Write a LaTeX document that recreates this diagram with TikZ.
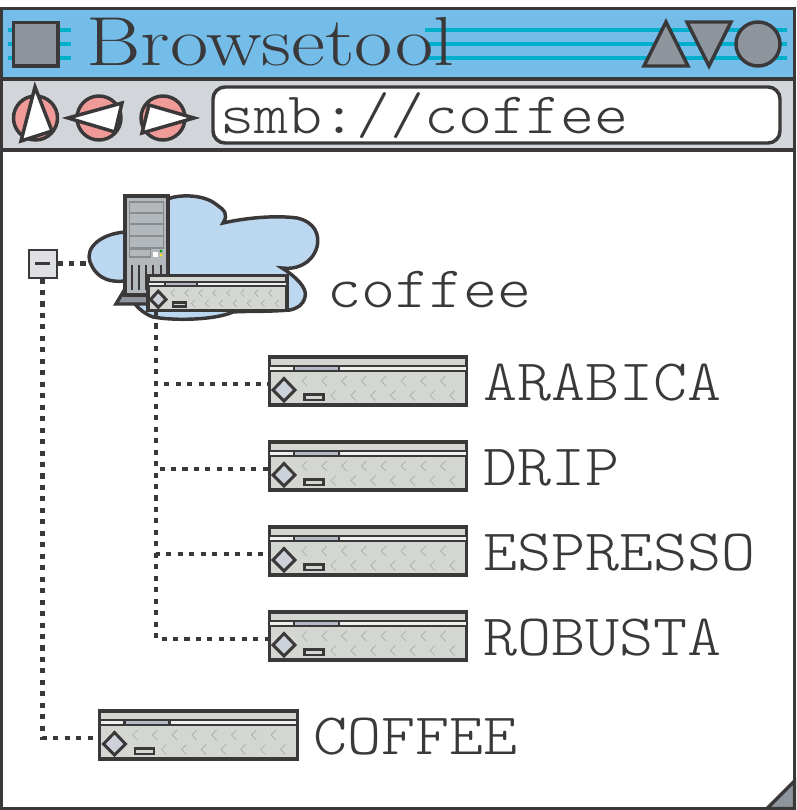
\documentclass[tikz,border=0pt]{standalone}
\usetikzlibrary{positioning}
\usepackage{xcolor}

\definecolor{inkdark}{HTML}{3A3839}
\definecolor{titleblue}{HTML}{74BDE9}
\definecolor{stripecyan}{HTML}{00AFCB}
\definecolor{barsilver}{HTML}{D2D5DA}
\definecolor{knobgray}{HTML}{8E959C}
\definecolor{navpink}{HTML}{F19B99}
\definecolor{cloudblue}{HTML}{BCD8F0}
\definecolor{drivefill}{HTML}{D4D6D1}
\definecolor{diamondfill}{HTML}{CDD1DA}
\definecolor{slotgray}{HTML}{B4BAC6}
\definecolor{towerfill}{HTML}{B3B8BD}
\definecolor{thingray}{HTML}{8A8D90}
\definecolor{chevrongray}{HTML}{A9ABA8}
\definecolor{minusfill}{HTML}{DFE0E4}

\tikzset{
    outline/.style={draw=inkdark, line width=2.6pt, line join=miter},
    knob/.style={outline, fill=knobgray},
    navknob/.style={outline, fill=navpink},
    navarrow/.style={outline, fill=white},
    stripe/.style={stripecyan, line width=2.6pt},
    dotline/.style={draw=inkdark, line width=3.5pt, dash pattern=on 3.8pt off 4.8pt},
    drivebox/.style={draw=inkdark, line width=2.4pt, fill=drivefill, minimum width=148pt, minimum height=36pt, inner sep=0pt, transform shape},
    drivelabel/.style={font=\ttfamily\fontseries{l}\fontsize{44}{44}\selectfont, text=inkdark, inner sep=0pt, xscale=1.105, transform shape},
    drive/.pic={
        \node[drivebox] (-box) at (100,25) {};
        \coordinate (-port) at (0,28);
        %chevrons
        \foreach \k in {0,...,7}
            \draw [chevrongray, line width=.5pt] (39+19.8*\k,20) -- (34+19.8*\k,25) -- (39+19.8*\k,30);
        \foreach \k in {0,...,6}
            \draw [chevrongray, line width=.5pt] (68+19.8*\k,34.5) -- (63+19.8*\k,39.5) -- (68+19.8*\k,44.5);
        %top strip
        \draw [fill=drivefill!40!white, draw=inkdark, line width=1.6pt] (1,10) rectangle (199,15);
        \draw [fill=slotgray, draw=inkdark, line width=1.6pt] (26,10) rectangle (71,15);
        \draw [inkdark, line width=1.6pt] (1,10) -- (199,10) (1,15) -- (199,15);
        %diamond and slot
        \draw [fill=diamondfill, draw=inkdark, line width=2.2pt] (16,22.5) -- (27,34) -- (16,45) -- (5,34) -- cycle;
        \draw [fill=drivefill, draw=inkdark, line width=1.8pt] (36.5,38.5) rectangle (55.5,44);
    }
}

\begin{document}
\begin{tikzpicture}[x=0.75pt, y=-0.75pt]

    \useasboundingbox (0,0) rectangle (796,810);

    %window
    \draw [outline, fill=titleblue] (1,8.5) rectangle (794.5,79);
    \draw [outline, fill=barsilver] (1,79) rectangle (794.5,150);

    %title bar
    \foreach \y in {30,44,58} {
        \draw [stripe] (8,\y) -- (71,\y);
        \draw [stripe] (425,\y) -- (787,\y);
    }
    \draw [knob] (13.5,22.5) rectangle (58,66);
    \node (title) [anchor=base west, inner sep=0pt, text=inkdark, font=\fontsize{52}{52}\selectfont] at (86,65) {\scalebox{1.2}[1]{Browsetool}};
    \draw [knob] (666,22) -- (688,66) -- (644,66) -- cycle;
    \draw [knob] (687,22) -- (731,22) -- (709,66) -- cycle;
    \draw [knob] (758,44) circle (22);

    %navigation
    \draw [navknob] (35.5,118) circle (22);
    \draw [navarrow] (35,87) -- (52,131) -- (21,141) -- cycle;
    \draw [navknob] (99,118) circle (22);
    \draw [navarrow] (68,118) -- (122,103) -- (115,132) -- cycle;
    \draw [navknob] (163,118) circle (22);
    \draw [navarrow] (194,118) -- (149,105) -- (142,133) -- cycle;

    %address
    \draw [outline, fill=white, rounded corners=9pt] (213,87) rectangle (780,143);
    \node (address) [drivelabel, anchor=base west] at (220,133) {smb://coffee};

    %server
    \draw [outline, fill=cloudblue] (168,199)
        .. controls (176,195) and (203,193) .. (217,205)
        .. controls (224,210) and (229,214) .. (223,223)
        .. controls (245,218) and (275,215) .. (297,218)
        .. controls (315,222) and (320,235) .. (317,247)
        .. controls (312,264) and (296,270) .. (282,268)
        .. controls (295,276) and (308,288) .. (305,297)
        .. controls (303,305) and (298,308) .. (290,310)
        .. controls (265,312) and (245,311) .. (233,312)
        .. controls (215,320) and (175,321) .. (153,317)
        .. controls (145,314) and (140,310) .. (135,304)
        -- (125,281)
        .. controls (105,283) and (95,275) .. (90,262)
        .. controls (85,248) and (100,234) .. (125,232)
        -- cycle;
    \draw [outline, fill=knobgray] (125,289) -- (116,304) -- (150,304) -- (150,289) -- cycle;
    \draw [outline, fill=towerfill] (125,196) rectangle (168,295);
    \draw [thingray, line width=.9pt] (129.5,202) rectangle (163.5,248);
    \foreach \y in {213,224,236}
        \draw [thingray, line width=.9pt] (129.5,\y) -- (163.5,\y);
    \draw [thingray, line width=.9pt] (129.5,249) rectangle (150.5,257);
    \fill [white] (153,252) rectangle (157.5,256.5);
    \fill [green!60!black] (161,251) circle (1.5);
    \fill [yellow!90!orange] (161,255) circle (1.5);
    \foreach \x in {132,139,146,153,161}
        \draw [inkdark, line width=1.8pt] (\x,265) -- (\x,290);

    %drives
    \pic [scale=0.705, yscale=1.02] (serverdrive) at (147,275) {drive};
    \pic (arabica) at (268,356) {drive};
    \pic (drip) at (268,441) {drive};
    \pic (espresso) at (268,526) {drive};
    \pic (robusta) at (268,611) {drive};
    \pic (coffeeshare) at (98.5,710) {drive};

    %labels
    \node (serverlabel) [drivelabel, right=29pt of serverdrive-box, yshift=2.2pt] {coffee};
    \node [drivelabel, right=11pt of arabica-box, yshift=-1.5pt] {ARABICA};
    \node [drivelabel, right=11pt of drip-box, yshift=-1.5pt] {DRIP};
    \node [drivelabel, right=11pt of espresso-box, yshift=-1.5pt] {ESPRESSO};
    \node [drivelabel, right=11pt of robusta-box, yshift=-1.5pt] {ROBUSTA};
    \node [drivelabel, right=11pt of coffeeshare-box, yshift=-1.5pt] {COFFEE};

    %tree
    \node (minus) [draw=inkdark, line width=1.5pt, fill=minusfill, minimum size=21pt, inner sep=0pt] at (42.5,263.5) {};
    \draw [inkdark, line width=2pt] (35,263.5) -- (50,263.5);
    \coordinate (cloudedge) at (87,263.5);
    \coordinate (driveport) at (156,312);
    \draw [dotline] (minus.east) -- (cloudedge);
    \draw [dotline] (minus.south) |- (coffeeshare-port);
    \foreach \name in {arabica,drip,espresso,robusta}
        \draw [dotline] (driveport) |- (\name-port);

    %border and corner
    \draw [outline] (1,8.5) rectangle (794.5,808.5);
    \draw [outline, fill=knobgray] (767,808.5) -- (794.5,781) -- (794.5,808.5) -- cycle;

\end{tikzpicture}
\end{document}
